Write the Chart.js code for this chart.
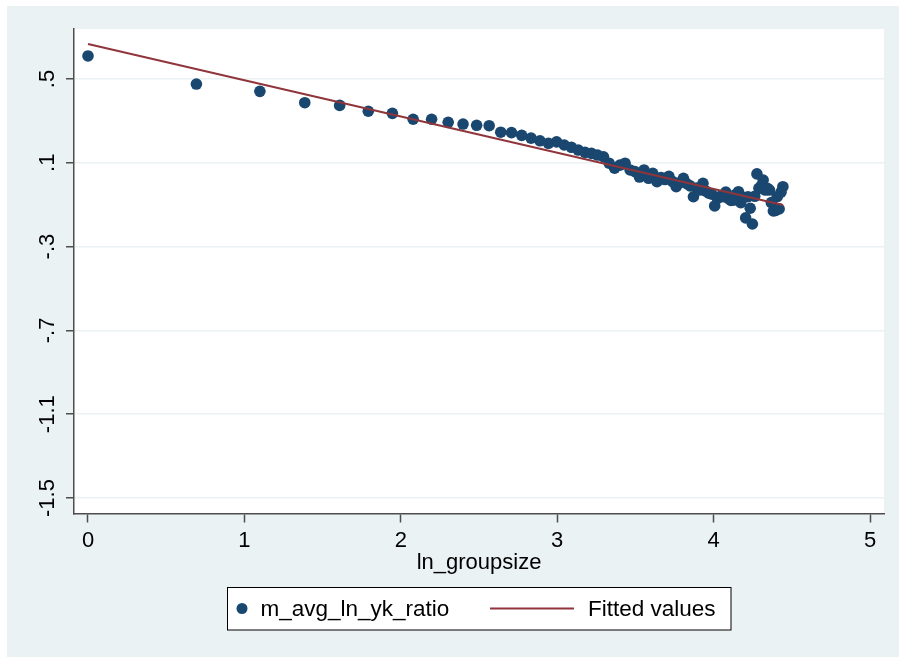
<!DOCTYPE html>
<html><head><meta charset="utf-8">
<script src="https://cdn.jsdelivr.net/npm/chart.js@4.4.0/dist/chart.umd.min.js"></script>
<style>html,body{margin:0;padding:0;background:#fff;}#wrap{width:899px;height:657px;}</style>
</head><body><div id="wrap"><canvas id="c" width="899" height="657"></canvas></div>
<script>
// ---- data ----
const lnGroupSize = [0.000,0.693,1.099,1.386,1.609,1.792,1.946,2.079,2.197,2.303,
  2.398,2.485,2.565,2.639,2.708,2.773,2.833,2.890,2.944,2.996,
  3.045,3.091,3.135,3.178,3.219,3.258,3.296,3.332,3.367,3.401,
  3.434,3.466,3.497,3.526,3.555,3.584,3.611,3.638,3.664,3.689,
  3.714,3.738,3.761,3.784,3.807,3.829,3.850,3.871,3.892,3.912,
  3.932,3.951,3.970,3.989,4.007,4.025,4.043,4.060,4.078,4.094,
  4.111,4.127,4.143,4.159,4.174,4.190,4.205,4.220,4.234,4.248,
  4.263,4.277,4.290,4.304,4.317,4.331,4.344,4.357,4.369,4.382,
  4.394,4.407,4.419,4.431,4.443];
const mAvgLnYkRatio = [0.610,0.476,0.441,0.387,0.374,0.346,0.336,0.308,0.308,0.293,
  0.285,0.279,0.277,0.246,0.244,0.231,0.218,0.205,0.193,0.200,
  0.185,0.174,0.161,0.150,0.145,0.137,0.129,0.098,0.074,0.089,
  0.098,0.066,0.058,0.032,0.066,0.026,0.050,0.010,0.030,0.020,
  0.035,0.010,-0.014,0.005,0.026,0.000,-0.010,-0.062,-0.020,-0.030,
  0.002,-0.035,-0.045,-0.050,-0.106,-0.070,-0.060,-0.062,-0.040,-0.070,
  -0.080,-0.078,-0.050,-0.038,-0.090,-0.065,-0.163,-0.062,-0.117,-0.192,
  -0.060,0.047,-0.022,-0.010,0.018,-0.030,-0.022,-0.030,-0.090,-0.130,
  -0.128,-0.062,-0.120,-0.040,-0.014];
const fittedX = [0.000, 4.443];
const fittedY = [0.667, -0.101];
const yTickValues = [-1.5, -1.1, -0.7, -0.3, 0.1, 0.5];
const yTickLabels = ["-1.5", "-1.1", "-.7", "-.3", ".1", ".5"];
const xTickValues = [0, 1, 2, 3, 4, 5];
const xTickLabels = ["0", "1", "2", "3", "4", "5"];
const xTitle = "ln_groupsize";
const seriesNames = ["m_avg_ln_yk_ratio", "Fitted values"];

// ---- styling ----
const NAVY = "#1A476F", MAROON = "#90353B", BG = "#EAF2F3", AXIS = "#4d4d4d";
const FONT = "'Liberation Sans', Arial, sans-serif";

const scatterPts = lnGroupSize.map((x, i) => ({x: x, y: mAvgLnYkRatio[i]}));
const fitPts = fittedX.map((x, i) => ({x: x, y: fittedY[i]}));

const decor = {
  id: 'decor',
  beforeDraw(chart) {
    const ctx = chart.ctx, a = chart.chartArea;
    ctx.save();
    ctx.fillStyle = '#ffffff';
    ctx.fillRect(0, 0, chart.width, chart.height);
    ctx.fillStyle = BG;
    ctx.fillRect(7, 6, chart.width - 7, chart.height - 6);
    ctx.fillStyle = '#ffffff';
    ctx.fillRect(a.left, a.top, a.right - a.left, a.bottom - a.top);
    ctx.restore();
  },
  afterDraw(chart) {
    const ctx = chart.ctx, ys = chart.scales.y;
    ctx.save();
    ctx.fillStyle = '#000';
    ctx.font = "22px " + FONT;
    ctx.textAlign = 'center';
    ctx.textBaseline = 'alphabetic';
    yTickValues.forEach((v, i) => {
      const py = ys.getPixelForValue(v);
      ctx.save();
      ctx.translate(54, py);
      ctx.rotate(-Math.PI / 2);
      ctx.fillText(yTickLabels[i], 0, 0);
      ctx.restore();
    });
    // legend
    const lx = 227.5, ly = 587.5, lw = 503.5, lh = 42.5;
    ctx.fillStyle = '#fff';
    ctx.fillRect(lx, ly, lw, lh);
    ctx.strokeStyle = '#000';
    ctx.lineWidth = 1;
    ctx.strokeRect(lx, ly, lw, lh);
    const cy = 608.5;
    ctx.fillStyle = NAVY;
    ctx.beginPath(); ctx.arc(242, cy, 5.5, 0, Math.PI * 2); ctx.fill();
    ctx.fillStyle = '#000';
    ctx.textAlign = 'left';
    ctx.textBaseline = 'middle';
    ctx.font = "22.5px " + FONT;
    ctx.fillText(seriesNames[0], 260.5, cy + 1);
    ctx.strokeStyle = MAROON;
    ctx.lineWidth = 2;
    ctx.beginPath(); ctx.moveTo(490, cy); ctx.lineTo(574, cy); ctx.stroke();
    ctx.fillText(seriesNames[1], 588, cy + 1);
    ctx.restore();
  }
};

new Chart(document.getElementById('c'), {
  type: 'scatter',
  data: {
    datasets: [
      {label: seriesNames[1], type: 'line', data: fitPts, borderColor: MAROON, borderWidth: 2,
       pointRadius: 0, fill: false, showLine: true, order: 0},
      {label: seriesNames[0], data: scatterPts, backgroundColor: NAVY, borderWidth: 0,
       pointRadius: 5.8, pointHoverRadius: 5.8, order: 1}
    ]
  },
  options: {
    responsive: false, animation: false, devicePixelRatio: 1,
    layout: {padding: {top: 29, right: 15, bottom: 0, left: 0}},
    plugins: {legend: {display: false}, tooltip: {enabled: false}},
    scales: {
      x: {
        type: 'linear', min: -0.0895, max: 5.0895,
        afterBuildTicks: s => { s.ticks = xTickValues.map(v => ({value: v})); },
        afterFit: s => { s.height = 657 - 513.5; },
        ticks: {autoSkip: false, maxRotation: 0, minRotation: 0, padding: 5, color: '#000',
          font: {family: FONT, size: 22},
          callback: v => xTickLabels[xTickValues.indexOf(v)]},
        grid: {drawOnChartArea: false, drawTicks: true, tickLength: 9, tickColor: AXIS, tickWidth: 1.5},
        border: {color: AXIS, width: 1.5},
        title: {display: true, text: xTitle, color: '#000', font: {family: FONT, size: 22},
          padding: {top: 0, bottom: 81}}
      },
      y: {
        type: 'linear', min: -1.574, max: 0.7387,
        afterBuildTicks: s => { s.ticks = yTickValues.map(v => ({value: v})); },
        afterFit: s => { s.width = 74; },
        ticks: {display: false},
        grid: {color: BG, lineWidth: 1.5, drawTicks: true, tickLength: 8, tickColor: AXIS, tickWidth: 1.5},
        border: {color: AXIS, width: 1.5}
      }
    }
  },
  plugins: [decor]
});
</script></body></html>
